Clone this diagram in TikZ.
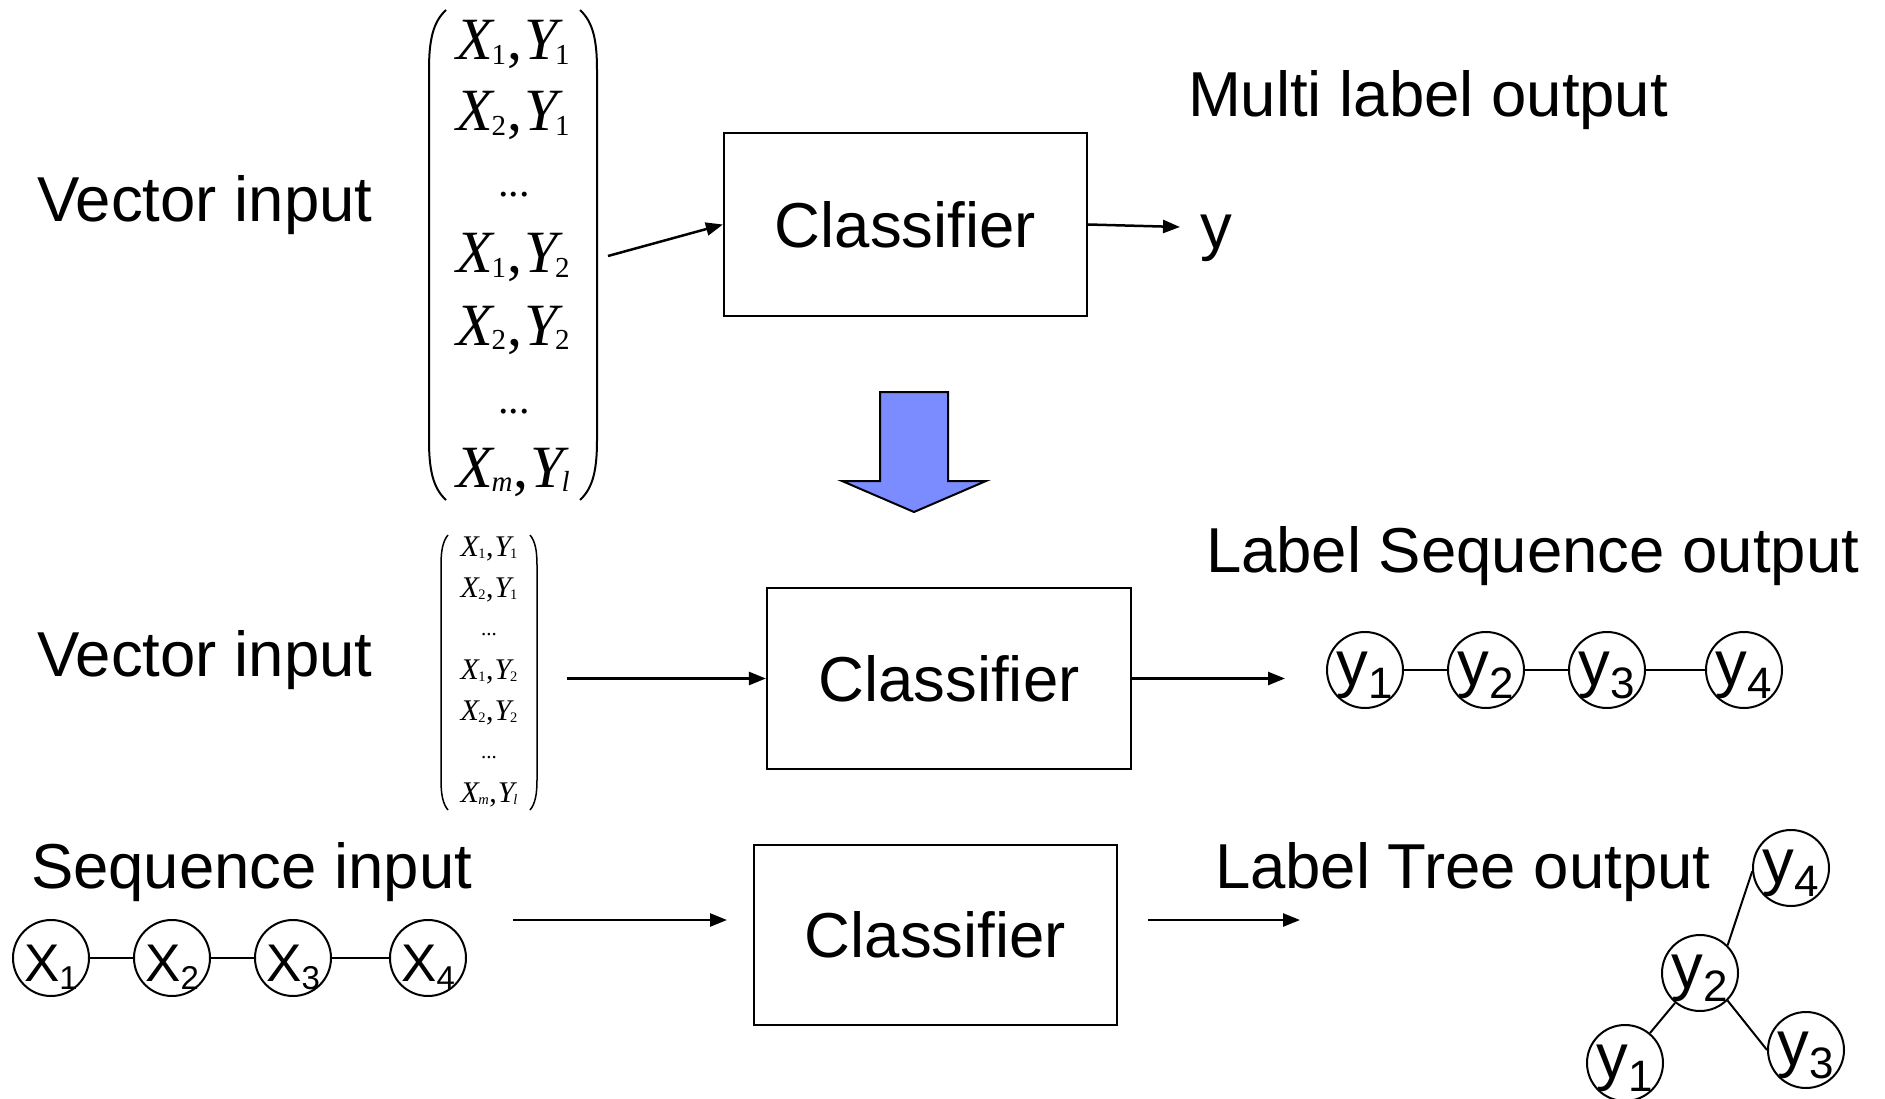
\documentclass[tikz,border=0pt]{standalone}
\usepackage{fontspec}
\setmainfont{Liberation Sans}
\newfontfamily\tnr{Liberation Serif}
\usetikzlibrary{arrows.meta}
\definecolor{blockblue}{RGB}{122,140,255}
\newcommand{\subsz}{29}
\newcommand{\MX}[4]{{\itshape #1}\kern-0.02em\raisebox{-0.07em}{\fontsize{\subsz}{\subsz}\selectfont #2}\kern0.02em,\kern0.03em{\itshape #3}\kern-0.04em\raisebox{-0.07em}{\fontsize{\subsz}{\subsz}\selectfont #4}}
\newcommand{\mdots}{{\fontsize{0.7em}{0.7em}\selectfont ...}}
\newcommand{\ysub}[1]{y\raisebox{-13pt}{\fontsize{44}{44}\selectfont #1}}
\newcommand{\xsub}[1]{X\raisebox{-8pt}{\fontsize{33}{33}\selectfont #1}}
\begin{document}
\begin{tikzpicture}[x=1pt,y=-1pt,line width=2pt,
  lbl/.style={font=\fontsize{63.5}{70}\selectfont, inner sep=0, anchor=base west},
  box/.style={draw, line width=2.2pt, font=\fontsize{63.5}{70}\selectfont, inner sep=0},
  arr/.style={-{Triangle[length=17pt,width=13pt]}, line width=2.5pt},
  ycirc/.style={draw, circle, minimum size=76, inner sep=0, line width=2pt,
    font=\fontsize{63.5}{70}\selectfont, text height=40, text depth=10},
  xcirc/.style={draw, circle, minimum size=76, inner sep=0, line width=2pt,
    font=\fontsize{53}{60}\selectfont, text height=48, text depth=2},
  rowA/.style={font=\tnr\fontsize{60}{60}\selectfont\renewcommand{\subsz}{29}, inner sep=0, anchor=base},
  rowB/.style={font=\tnr\fontsize{30}{30}\selectfont\renewcommand{\subsz}{14.5}, inner sep=0, anchor=base},
  dotsA/.style={font=\tnr\fontsize{42}{42}\selectfont, inner sep=0, anchor=base},
  dotsB/.style={font=\tnr\fontsize{21}{21}\selectfont, inner sep=0, anchor=base},
  paren/.style={line width=2pt}]
\useasboundingbox (0,0) rectangle (1885,1099);

% ---------- top row ----------
\node[lbl] (vin1) at (36,222) {Vector input};
\node[rowA] (a1) at (513,60) {\MX{X}{1}{Y}{1}};
\node[rowA] (a2) at (513,131) {\MX{X}{2}{Y}{1}};
\node[dotsA] (a3) at (514,197) {...};
\node[rowA] (a4) at (513,273) {\MX{X}{1}{Y}{2}};
\node[rowA] (a5) at (513,345) {\MX{X}{2}{Y}{2}};
\node[dotsA] (a6) at (514,413) {...};
\node[rowA] (a7) at (513,487) {\MX{X}{\itshape m}{Y}{\itshape l}};
\draw[paren] (446,10) .. controls (433,22) and (429,40) .. (429,70) -- (429,440) .. controls (429,470) and (433,488) .. (446,500);
\draw[paren] (580,10) .. controls (593,22) and (597,40) .. (597,70) -- (597,440) .. controls (597,470) and (593,488) .. (580,500);

\node[box, minimum width=363, minimum height=183] (b1) at (905.5,224.5) {Classifier};
\coordinate (m1o) at (608,256);
\draw[arr] (m1o) -- (b1.west);
\coordinate (yo) at (1180,227);
\draw[arr] (b1.east) -- (yo);
\node[lbl] (ylab) at (1199,249) {y};
\node[lbl] (mlo) at (1187,117) {Multi label output};

% ---------- block arrow ----------
\draw[fill=blockblue, line width=2pt, line join=miter]
  (880,392) -- (948,392) -- (948,481) -- (986,481) -- (914,512) -- (842,481) -- (880,481) -- cycle;

% ---------- middle row ----------
\node[lbl] (vin2) at (36,676) {Vector input};
\node[rowB] (c1) at (489,556) {\MX{X}{1}{Y}{1}};
\node[rowB] (c2) at (489,597) {\MX{X}{2}{Y}{1}};
\node[dotsB] (c3) at (489,635) {...};
\node[rowB] (c4) at (489,679) {\MX{X}{1}{Y}{2}};
\node[rowB] (c5) at (489,720) {\MX{X}{2}{Y}{2}};
\node[dotsB] (c6) at (489,758) {...};
\node[rowB] (c7) at (489,802) {\MX{X}{\itshape m}{Y}{\itshape l}};
\draw[paren, line width=1.5pt] (448,535) .. controls (443,541) and (441,550) .. (441,565) -- (441,780) .. controls (441,795) and (443,804) .. (448,810);
\draw[paren, line width=1.5pt] (530,535) .. controls (535,541) and (537,550) .. (537,565) -- (537,780) .. controls (537,795) and (535,804) .. (530,810);

\node[box, minimum width=364, minimum height=181] (b2) at (949,678.5) {Classifier};
\coordinate (m2o) at (567,678.5);
\draw[arr] (m2o) -- (b2.west);
\coordinate (so) at (1285,678.5);
\draw[arr] (b2.east) -- (so);
\node[lbl] (lso) at (1205,572) {Label Sequence output};

\node[ycirc] (s1) at (1365,670) {\ysub{1}};
\node[ycirc] (s2) at (1486,670) {\ysub{2}};
\node[ycirc] (s3) at (1607,670) {\ysub{3}};
\node[ycirc] (s4) at (1744,670) {\ysub{4}};
\draw (s1) -- (s2);
\draw (s2) -- (s3);
\draw (s3) -- (s4);

% ---------- bottom row ----------
\node[lbl] (sin) at (30,888) {Sequence input};
\node[xcirc] (x1) at (51,958) {\xsub{1}};
\node[xcirc] (x2) at (172,958) {\xsub{2}};
\node[xcirc] (x3) at (293,958) {\xsub{3}};
\node[xcirc] (x4) at (428,958) {\xsub{4}};
\draw (x1) -- (x2);
\draw (x2) -- (x3);
\draw (x3) -- (x4);

\node[box, minimum width=363, minimum height=180] (b3) at (935.5,935) {Classifier};
\coordinate (xi) at (513,920);
\coordinate (xe) at (727,920);
\draw[arr] (xi) -- (xe);
\coordinate (ti) at (1148,920);
\coordinate (te) at (1300,920);
\draw[arr] (ti) -- (te);
\node[lbl] (lto) at (1214,888) {Label Tree output};

\node[ycirc] (t4) at (1791,868) {\ysub{4}};
\node[ycirc] (t2) at (1700,973) {\ysub{2}};
\node[ycirc] (t1) at (1625,1063) {\ysub{1}};
\node[ycirc] (t3) at (1806,1050) {\ysub{3}};
\draw (t2.45) -- (t4.185);
\draw (t2) -- (t1);
\draw (t2.315) -- (t3.west);
\end{tikzpicture}
\end{document}
